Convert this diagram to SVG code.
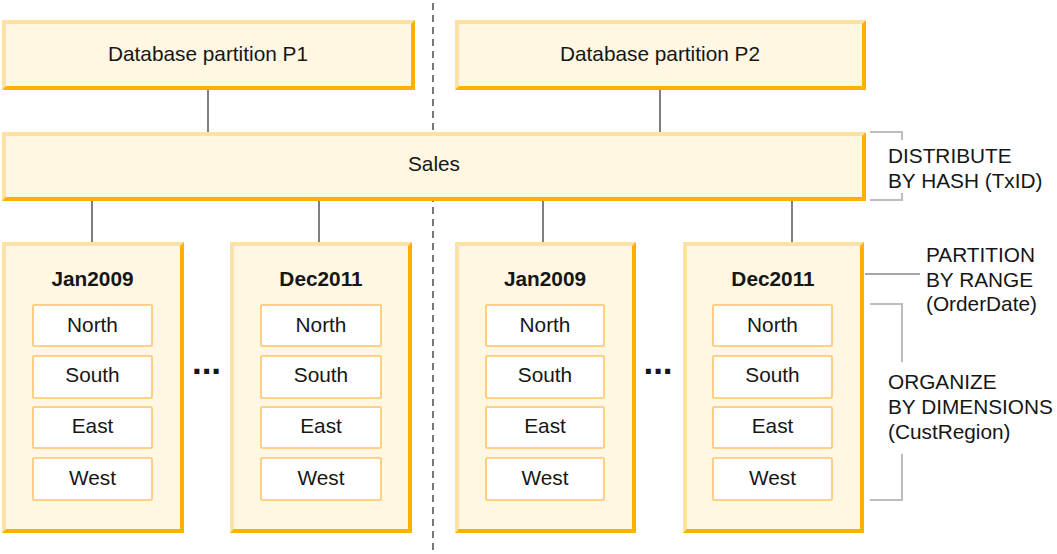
<svg xmlns="http://www.w3.org/2000/svg" width="1057" height="554" viewBox="0 0 1057 554">
<defs>
<style>
text{font-family:"Liberation Sans",Arial,sans-serif;font-size:20.8px;fill:#161616}
.c{text-anchor:middle}
.b{font-weight:bold}
.outer{fill:#ffb000}
.hi{fill:#fde2a6}
.in{fill:#fff7e1}
.cell{fill:#ffffff;stroke:#ffc466;stroke-width:1.6}
.conn{stroke:#555;stroke-width:1.5;fill:none}
.brk{stroke:#bdbdbd;stroke-width:2;fill:none}
.pl{stroke:#8a8a8a;stroke-width:1.5;fill:none}
.dash{stroke:#777;stroke-width:2;stroke-dasharray:7 5;fill:none}
.dots{font-weight:bold;font-size:35px;text-anchor:middle}
</style>
</defs>
<rect width="1057" height="554" fill="#ffffff"/>
<line class="dash" x1="433" y1="3" x2="433" y2="554"/>
<g id="connectors">
<line class="conn" x1="208" y1="89" x2="208" y2="132"/>
<line class="conn" x1="660" y1="89" x2="660" y2="132"/>
<line class="conn" x1="92" y1="200" x2="92" y2="242"/>
<line class="conn" x1="319" y1="200" x2="319" y2="242"/>
<line class="conn" x1="543" y1="200" x2="543" y2="242"/>
<line class="conn" x1="792" y1="200" x2="792" y2="242"/>
</g>
<g id="p1">
<rect class="outer" x="2" y="20" width="413" height="70"/>
<polygon class="hi" points="2,20 415,20 411,24 6,24 6,86 2,90"/>
<rect class="in" x="6" y="24" width="405" height="62"/>
<text class="c" x="208" y="61">Database partition P1</text>
</g>
<g id="p2">
<rect class="outer" x="455" y="20" width="411" height="70"/>
<polygon class="hi" points="455,20 866,20 862,24 459,24 459,86 455,90"/>
<rect class="in" x="459" y="24" width="403" height="62"/>
<text class="c" x="660" y="61">Database partition P2</text>
</g>
<g id="sales">
<rect class="outer" x="2" y="132" width="864" height="69"/>
<polygon class="hi" points="2,132 866,132 862,136 6,136 6,197 2,201"/>
<rect class="in" x="6" y="136" width="856" height="61"/>
<text class="c" x="434" y="171">Sales</text>
</g>
<g id="p1-jan2009">
<rect class="outer" x="2" y="242" width="182" height="291"/>
<polygon class="hi" points="2,242 184,242 180,246 6,246 6,529 2,533"/>
<rect class="in" x="6" y="246" width="174" height="283"/>
<text class="c b" x="92.5" y="286">Jan2009</text>
<rect class="cell" x="33" y="305" width="119" height="41" rx="1"/>
<text class="c" x="92.5" y="332">North</text>
<rect class="cell" x="33" y="356" width="119" height="42" rx="1"/>
<text class="c" x="92.5" y="382">South</text>
<rect class="cell" x="33" y="407" width="119" height="41" rx="1"/>
<text class="c" x="92.5" y="433">East</text>
<rect class="cell" x="33" y="458" width="119" height="42" rx="1"/>
<text class="c" x="92.5" y="485">West</text>
</g>
<g id="p1-dec2011">
<rect class="outer" x="230" y="242" width="182" height="291"/>
<polygon class="hi" points="230,242 412,242 408,246 234,246 234,529 230,533"/>
<rect class="in" x="234" y="246" width="174" height="283"/>
<text class="c b" x="321" y="286">Dec2011</text>
<rect class="cell" x="261" y="305" width="120" height="41" rx="1"/>
<text class="c" x="321" y="332">North</text>
<rect class="cell" x="261" y="356" width="120" height="42" rx="1"/>
<text class="c" x="321" y="382">South</text>
<rect class="cell" x="261" y="407" width="120" height="41" rx="1"/>
<text class="c" x="321" y="433">East</text>
<rect class="cell" x="261" y="458" width="120" height="42" rx="1"/>
<text class="c" x="321" y="485">West</text>
</g>
<g id="p2-jan2009">
<rect class="outer" x="455" y="242" width="181" height="291"/>
<polygon class="hi" points="455,242 636,242 632,246 459,246 459,529 455,533"/>
<rect class="in" x="459" y="246" width="173" height="283"/>
<text class="c b" x="545" y="286">Jan2009</text>
<rect class="cell" x="486" y="305" width="118" height="41" rx="1"/>
<text class="c" x="545" y="332">North</text>
<rect class="cell" x="486" y="356" width="118" height="42" rx="1"/>
<text class="c" x="545" y="382">South</text>
<rect class="cell" x="486" y="407" width="118" height="41" rx="1"/>
<text class="c" x="545" y="433">East</text>
<rect class="cell" x="486" y="458" width="118" height="42" rx="1"/>
<text class="c" x="545" y="485">West</text>
</g>
<g id="p2-dec2011">
<rect class="outer" x="683" y="242" width="181" height="291"/>
<polygon class="hi" points="683,242 864,242 860,246 687,246 687,529 683,533"/>
<rect class="in" x="687" y="246" width="173" height="283"/>
<text class="c b" x="773" y="286">Dec2011</text>
<rect class="cell" x="713" y="305" width="119" height="41" rx="1"/>
<text class="c" x="772.5" y="332">North</text>
<rect class="cell" x="713" y="356" width="119" height="42" rx="1"/>
<text class="c" x="772.5" y="382">South</text>
<rect class="cell" x="713" y="407" width="119" height="41" rx="1"/>
<text class="c" x="772.5" y="433">East</text>
<rect class="cell" x="713" y="458" width="119" height="42" rx="1"/>
<text class="c" x="772.5" y="485">West</text>
</g>
<g id="ellipses">
<text class="dots" x="206.5" y="374">...</text>
<text class="dots" x="658" y="374">...</text>
</g>
<g id="annotations">
<polyline class="brk" points="870,132 902,132 902,140"/>
<polyline class="brk" points="870,200 902,200 902,193"/>
<text x="888" y="163">DISTRIBUTE</text>
<text x="888" y="188">BY HASH (TxID)</text>
<line class="pl" x1="865" y1="274" x2="920" y2="274"/>
<text x="926" y="262">PARTITION</text>
<text x="926" y="287">BY RANGE</text>
<text x="926" y="311">(OrderDate)</text>
<polyline class="brk" points="870,304 902,304 902,362"/>
<polyline class="brk" points="870,500 902,500 902,454"/>
<text x="888" y="389">ORGANIZE</text>
<text x="888" y="414">BY DIMENSIONS</text>
<text x="888" y="439">(CustRegion)</text>
</g>
</svg>
